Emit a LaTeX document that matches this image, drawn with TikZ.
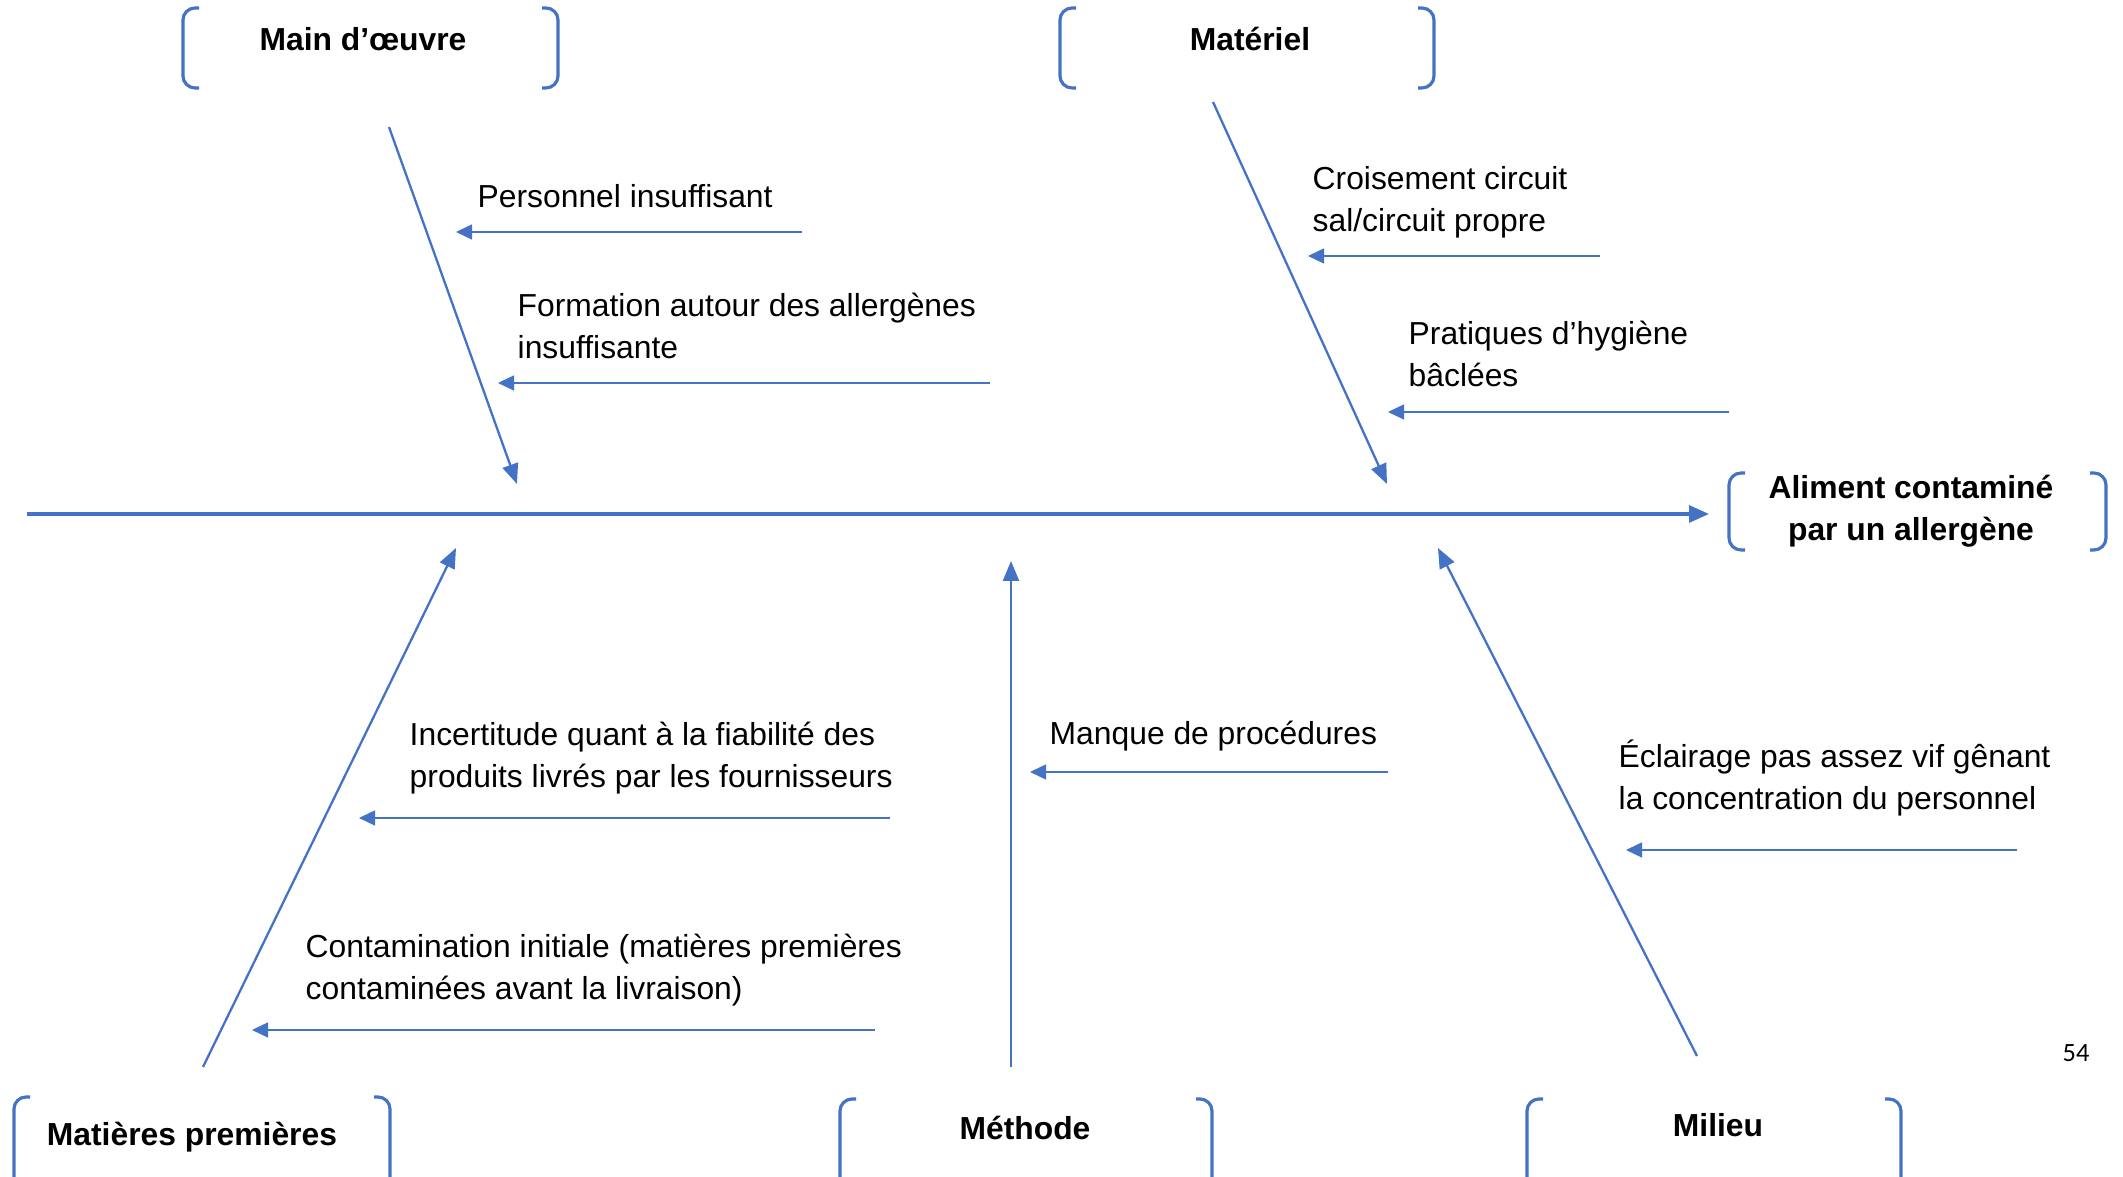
\documentclass[tikz,border=0pt]{standalone}
\usepackage{fontspec}
\setmainfont{Liberation Sans}
\newfontfamily\pagenumfont{Carlito}
\usetikzlibrary{arrows.meta}
\definecolor{bonecol}{HTML}{4472C4}
\newcommand{\fishbrk}[4]{%
  \draw[bracket] (#1+16,#3) -- (#1,#3) -- (#1,#4) -- (#1+16,#4);
  \draw[bracket] (#2-16,#3) -- (#2,#3) -- (#2,#4) -- (#2-16,#4);}

\begin{document}
\begin{tikzpicture}[x=0.01cm, y=-0.01cm,
    spine/.style={bonecol, line width=0.9pt, -{Triangle[length=0.2cm, width=0.17cm]}},
    bone/.style={bonecol, line width=0.65pt, -{Triangle[length=0.2cm, width=0.16cm]}},
    cause/.style={bonecol, line width=0.4pt, -{Triangle[length=0.16cm, width=0.15cm]}},
    txt/.style={anchor=west, align=left, inner sep=0pt, font=\fontsize{9.05}{11.9}\selectfont},
    head/.style={align=center, inner sep=0pt, font=\fontsize{9.05}{11.9}\selectfont\bfseries},
    bracket/.style={bonecol, line width=0.9pt, rounded corners=0.12cm}]
  \useasboundingbox (0,0) rectangle (2123,1177);
  \clip (0,0) rectangle (2123,1177);

  \node[head] (mo) at (363,39) {Main d’œuvre};
  \node[head] (mat) at (1250,39) {Matériel};
  \node[head] (effet) at (1911,511) {Aliment contaminé\\par un allergène};
  \node[head] (mp) at (192,1137) {Matières premières};
  \node[head] (meth) at (1025,1128) {Méthode};
  \node[head] (mil) at (1718,1125) {Milieu};
  \node[inner sep=0pt, font=\fontsize{7.5}{9}\pagenumfont] (page) at (2076,1053) {54};

  \fishbrk{183}{558}{8}{88}
  \fishbrk{1060}{1434}{8}{88}
  \fishbrk{1729}{2106}{473}{550}
  \fishbrk{14}{390}{1097}{1190}
  \fishbrk{840}{1212}{1099}{1190}
  \fishbrk{1527}{1901}{1099}{1190}

  \coordinate (spineL) at (27,514);
  \coordinate (spineR) at (1709,514);
  \draw[spine] (spineL) -- (spineR);

  \coordinate (moA) at (389,127);  \coordinate (moB) at (517,484);
  \coordinate (matA) at (1213,102); \coordinate (matB) at (1387,484);
  \coordinate (mpA) at (203,1067); \coordinate (mpB) at (456,548);
  \coordinate (methA) at (1011,1067); \coordinate (methB) at (1011,561);
  \coordinate (milA) at (1697,1056); \coordinate (milB) at (1438,548);
  \draw[bone] (moA) -- (moB);
  \draw[bone] (matA) -- (matB);
  \draw[bone] (mpA) -- (mpB);
  \draw[bone] (methA) -- (methB);
  \draw[bone] (milA) -- (milB);

  \node[txt] (c1) at (477,196) {Personnel insuffisant};
  \node[txt] (c2) at (517,326) {Formation autour des allergènes\\insuffisante};
  \node[txt] (c3) at (1312,202) {Croisement circuit\\sal/circuit propre};
  \node[txt] (c4) at (1408,354) {Pratiques d’hygiène\\bâclées};
  \node[txt] (c5) at (409,758) {Incertitude quant à la fiabilité des\\produits livrés par les fournisseurs};
  \node[txt] (c6) at (305,970) {Contamination initiale (matières premières\\contaminées avant la livraison)};
  \node[txt] (c7) at (1049,736) {Manque de procédures};
  \node[txt] (c8) at (1618,778) {Éclairage pas assez vif gênant\\la concentration du personnel};

  \coordinate (a1) at (802,232);  \coordinate (b1) at (456,232);
  \coordinate (a2) at (990,383);  \coordinate (b2) at (498,383);
  \coordinate (a3) at (1600,256); \coordinate (b3) at (1308,256);
  \coordinate (a4) at (1729,412); \coordinate (b4) at (1388,412);
  \coordinate (a5) at (890,818);  \coordinate (b5) at (359,818);
  \coordinate (a6) at (875,1030); \coordinate (b6) at (252,1030);
  \coordinate (a7) at (1388,772); \coordinate (b7) at (1030,772);
  \coordinate (a8) at (2017,850); \coordinate (b8) at (1626,850);
  \draw[cause] (a1) -- (b1);
  \draw[cause] (a2) -- (b2);
  \draw[cause] (a3) -- (b3);
  \draw[cause] (a4) -- (b4);
  \draw[cause] (a5) -- (b5);
  \draw[cause] (a6) -- (b6);
  \draw[cause] (a7) -- (b7);
  \draw[cause] (a8) -- (b8);
\end{tikzpicture}
\end{document}
